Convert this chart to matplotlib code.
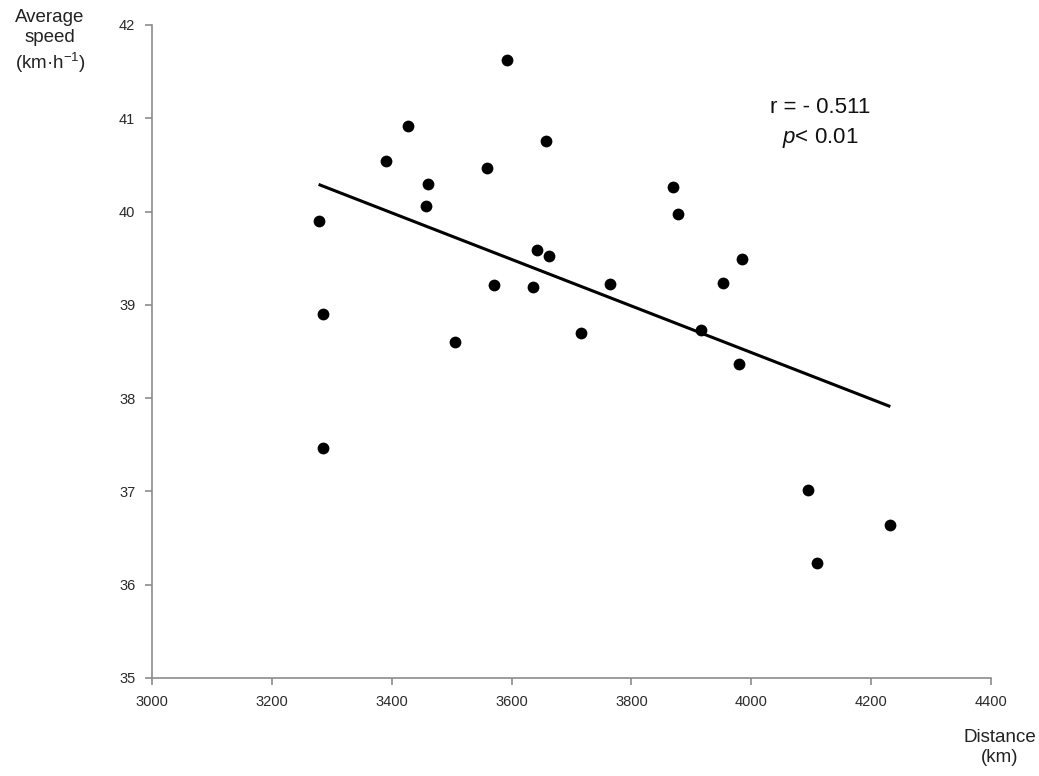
import numpy as np
import matplotlib
matplotlib.use("Agg")
import matplotlib.pyplot as plt

plt.rcParams['font.family'] = ['Liberation Sans', 'DejaVu Sans']
plt.rcParams['mathtext.fontset'] = 'custom'
plt.rcParams['mathtext.rm'] = 'Liberation Sans'
plt.rcParams['mathtext.it'] = 'Liberation Sans:italic'

# Data
distance_km = [3593, 3428, 3391, 3657, 3559, 3460, 3458, 3278, 3869, 3877,
               3642, 3662, 3984, 3570, 3636, 3765, 3952, 3286, 3505, 3716,
               3916, 3979, 3286, 4095, 4232, 4110]
speed_kmh = [41.63, 40.92, 40.54, 40.76, 40.47, 40.30, 40.06, 39.90, 40.26, 39.97,
             39.59, 39.52, 39.49, 39.21, 39.19, 39.22, 39.23, 38.90, 38.60, 38.70,
             38.73, 38.37, 37.47, 37.01, 36.64, 36.23]
x_ticks = [3000, 3200, 3400, 3600, 3800, 4000, 4200, 4400]
y_ticks = [35, 36, 37, 38, 39, 40, 41, 42]

x = np.array(distance_km, dtype=float)
y = np.array(speed_kmh, dtype=float)

fig = plt.figure(figsize=(10.39, 7.76), dpi=100)
ax = fig.add_axes([0.1463, 0.1263, 0.8075, 0.8415])

ax.scatter(x, y, s=72, color='black', zorder=3, linewidths=0)

slope, intercept = np.polyfit(x, y, 1)
xl = np.array([x.min(), x.max()])
ax.plot(xl, slope * xl + intercept, color='black', lw=2.2, solid_capstyle='butt', zorder=2)

ax.set_xlim(x_ticks[0], x_ticks[-1])
ax.set_ylim(y_ticks[0], y_ticks[-1])
ax.set_xticks(x_ticks)
ax.set_yticks(y_ticks)
for s in ['top', 'right']:
    ax.spines[s].set_visible(False)
for s in ['left', 'bottom']:
    ax.spines[s].set_color('#8c8c8c')
    ax.spines[s].set_linewidth(1.2)
ax.tick_params(axis='both', direction='out', length=5, width=1.2, color='#8c8c8c',
               labelsize=10.5, labelcolor='#2a2a2a')
ax.tick_params(axis='x', pad=7)
ax.tick_params(axis='y', pad=7)

fig.text(50 / 1039, 1 - 9 / 776, "Average\nspeed\n(km·h$^{-1}$)", ha='center', va='top',
         fontsize=13.5, linespacing=1.25, color='#222222')
fig.text(1000 / 1039, 1 - 729 / 776, "Distance\n(km)", ha='center', va='top',
         fontsize=13.5, linespacing=1.25, color='#222222')

fig.text(820 / 1039, 1 - 113 / 776, "r = - 0.511", ha='center', va='baseline',
         fontsize=16, color='#111111')
fig.text(820 / 1039, 1 - 143 / 776, "$p$< 0.01", ha='center', va='baseline',
         fontsize=16, color='#111111')

fig.savefig("out.png", dpi=100)
